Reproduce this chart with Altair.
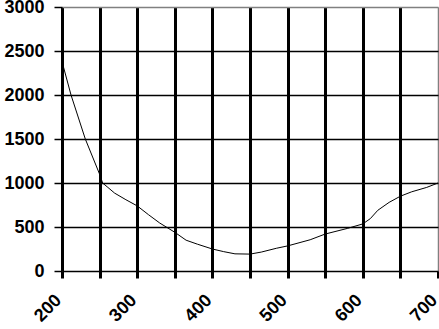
import altair as alt
import pandas as pd

wavelength = [200, 212, 231, 250, 254, 261, 270, 285, 300, 315, 330, 350, 365, 380,
              400, 415, 430, 450, 465, 485, 500, 530, 550, 580, 600, 610, 620, 635,
              650, 665, 685, 700]
value = [2380, 2000, 1500, 1100, 1000, 950, 885, 810, 740, 640, 545, 440, 350, 305,
         250, 220, 195, 192, 215, 258, 285, 355, 420, 485, 535, 595, 690, 780,
         850, 900, 950, 1000]
x_ticks = [200, 250, 300, 350, 400, 450, 500, 550, 600, 650, 700]
y_ticks = [0, 500, 1000, 1500, 2000, 2500, 3000]

df = pd.DataFrame({"x": wavelength, "y": value})

FONT = "Liberation Sans"

chart = alt.Chart(df).mark_line(color="black", strokeWidth=1).encode(
    x=alt.X("x:Q", scale=alt.Scale(domain=[200, 700], nice=False, zero=False),
            axis=alt.Axis(title=None, values=x_ticks, domain=False,
                          labelExpr="datum.value % 100 == 0 ? datum.label : ''",
                          labelAngle=-45, labelAlign="right", labelBaseline="top",
                          labelOffset=-10, labelPadding=13,
                          labelFont=FONT, labelFontSize=18, labelFontWeight="bold",
                          labelColor="black", labelFlush=False, labelOverlap=False,
                          tickSize=7, tickWidth=3, tickColor="black",
                          grid=True,
                          gridColor={"condition": {"test": "datum.value == 700", "value": "#808080"}, "value": "black"},
                          gridWidth={"condition": {"test": "datum.value == 700", "value": 1.5}, "value": 3},
                          gridOpacity=1)),
    y=alt.Y("y:Q", scale=alt.Scale(domain=[0, 3000], nice=False),
            axis=alt.Axis(title=None, values=y_ticks, domain=False, format="d",
                          labelFont=FONT, labelFontSize=18, labelFontWeight="bold",
                          labelColor="black", labelPadding=10, labelFlush=False,
                          tickSize=8, tickWidth=1.5, tickColor="black",
                          grid=True,
                          gridColor={"condition": {"test": "datum.value == 3000", "value": "#808080"}, "value": "black"},
                          gridWidth=1.5, gridOpacity=1)),
).properties(
    width=376, height=264,
    autosize=alt.AutoSizeParams(type="none"),
    padding={"left": 62, "top": 7, "right": 1, "bottom": 58},
).configure_view(stroke="#808080", strokeWidth=1.5).configure(background="white")

chart.save("out.html", embed_options={"renderer": "svg", "actions": False})
